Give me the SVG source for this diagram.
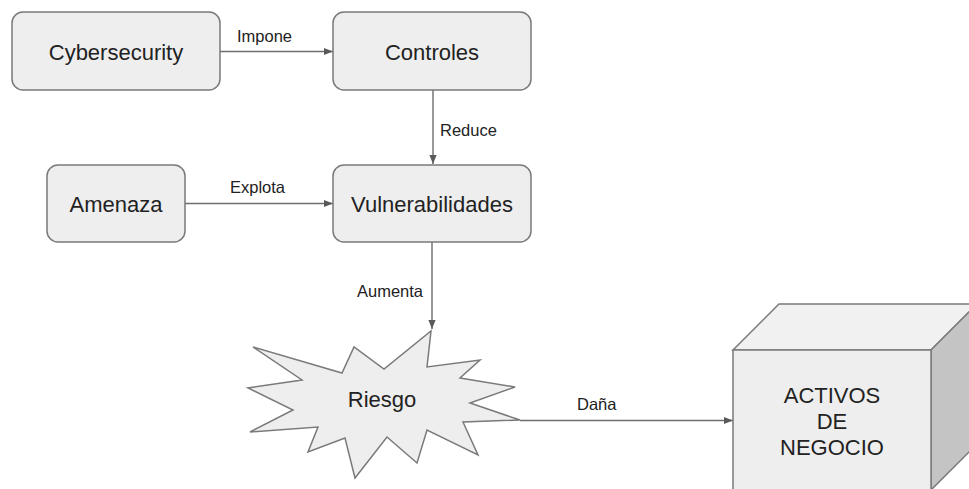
<svg xmlns="http://www.w3.org/2000/svg" width="969" height="489" viewBox="0 0 969 489">
<defs>
<style>
.box{fill:#eeeeee;stroke:#7a7a7a;stroke-width:1.5}
.t{font-family:"Liberation Sans",Arial,sans-serif;font-size:22px;fill:#222;text-anchor:middle}
.l{font-family:"Liberation Sans",Arial,sans-serif;font-size:16.5px;fill:#222}
.c{fill:none;stroke:#6e6e6e;stroke-width:1.4}
</style>
<marker id="ah" viewBox="0 0 10 10" refX="10" refY="5" markerWidth="9" markerHeight="9" markerUnits="userSpaceOnUse" orient="auto">
<path d="M0,1 L10,5 L0,9 Z" fill="#5a5a5a"/>
</marker>
</defs>
<rect width="969" height="489" fill="#ffffff"/>
<g id="connectors">
<line class="c" x1="220" y1="51.5" x2="333" y2="51.5" marker-end="url(#ah)"/>
<text class="l" x="237" y="42">Impone</text>
<line class="c" x1="433" y1="90" x2="433" y2="164" marker-end="url(#ah)"/>
<text class="l" x="440" y="136">Reduce</text>
<line class="c" x1="185" y1="203.5" x2="333" y2="203.5" marker-end="url(#ah)"/>
<text class="l" x="230" y="193">Explota</text>
<line class="c" x1="432" y1="242" x2="432" y2="329" marker-end="url(#ah)"/>
<text class="l" x="423" y="297" text-anchor="end">Aumenta</text>
<line class="c" x1="520" y1="420.5" x2="733" y2="420.5" marker-end="url(#ah)"/>
<text class="l" x="577" y="410">Daña</text>
</g>
<g id="cybersecurity">
<rect class="box" x="12" y="12" width="208" height="78" rx="11"/>
<text class="t" x="116" y="60">Cybersecurity</text>
</g>
<g id="controles">
<rect class="box" x="333" y="12" width="198" height="78" rx="11"/>
<text class="t" x="432" y="60">Controles</text>
</g>
<g id="amenaza">
<rect class="box" x="47" y="165" width="138" height="77" rx="11"/>
<text class="t" x="116" y="212">Amenaza</text>
</g>
<g id="vulnerabilidades">
<rect class="box" x="333" y="165" width="198" height="77" rx="11"/>
<text class="t" x="432" y="212">Vulnerabilidades</text>
</g>
<g id="riesgo">
<polygon class="box" points="253,347 342,373 354,347 384,369 431,331 427,367 480,360 460,378 515,387 470,403 520,420 463,422 478,455 427,430 417,463 387,437 355,478 345,438 308,452 318,427 250,432 293,410 248,388 302,380"/>
<text class="t" x="382" y="407">Riesgo</text>
</g>
<g id="activos">
<polygon fill="#f1f1f1" stroke="#7a7a7a" stroke-width="1.5" points="733,350 779,304 977,304 931,350"/>
<polygon fill="#c4c4c4" stroke="#7a7a7a" stroke-width="1.5" points="931,350 977,304 977,444 931,490"/>
<rect class="box" x="733" y="350" width="198" height="145"/>
<text class="t" x="832" y="403">ACTIVOS</text>
<text class="t" x="832" y="429">DE</text>
<text class="t" x="832" y="455">NEGOCIO</text>
</g>
</svg>
